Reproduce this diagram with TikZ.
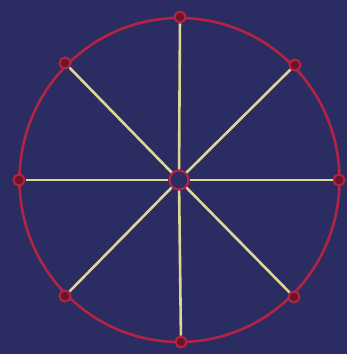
\documentclass[tikz,border=0pt]{standalone}
\begin{document}
\begin{tikzpicture}[x=1pt,y=-1pt,
  bg/.style={fill=navy,draw=none},
  rim/.style={draw=rimred,line width=2.6pt},
  spoke/.style={draw=spokeyel,line width=2.6pt},
  pnode/.style={circle,draw=rimred,fill=darkred,line width=2pt,minimum size=11pt,inner sep=0pt},
  cnode/.style={circle,draw=rimred,fill=navy,line width=2.2pt,minimum size=19pt,inner sep=0pt}]
\definecolor{navy}{RGB}{42,44,98}
\definecolor{rimred}{RGB}{180,36,66}
\definecolor{darkred}{RGB}{110,20,40}
\definecolor{spokeyel}{RGB}{222,214,150}
\path[bg] (0,0) rectangle (347,354);
\useasboundingbox (0,0) rectangle (347,354);
\draw[rim] (179.5,180) ellipse [x radius=160, y radius=162];
\node[cnode] (c) at (179,180) {};
\node[pnode] (p0) at (180,17) {};
\node[pnode] (p1) at (295,65) {};
\node[pnode] (p2) at (339,180) {};
\node[pnode] (p3) at (294,297) {};
\node[pnode] (p4) at (181,342) {};
\node[pnode] (p5) at (65,296) {};
\node[pnode] (p6) at (19,180) {};
\node[pnode] (p7) at (65,63) {};
\foreach \i in {0,...,7} {\draw[spoke] (c) -- (p\i);}
\end{tikzpicture}
\end{document}
